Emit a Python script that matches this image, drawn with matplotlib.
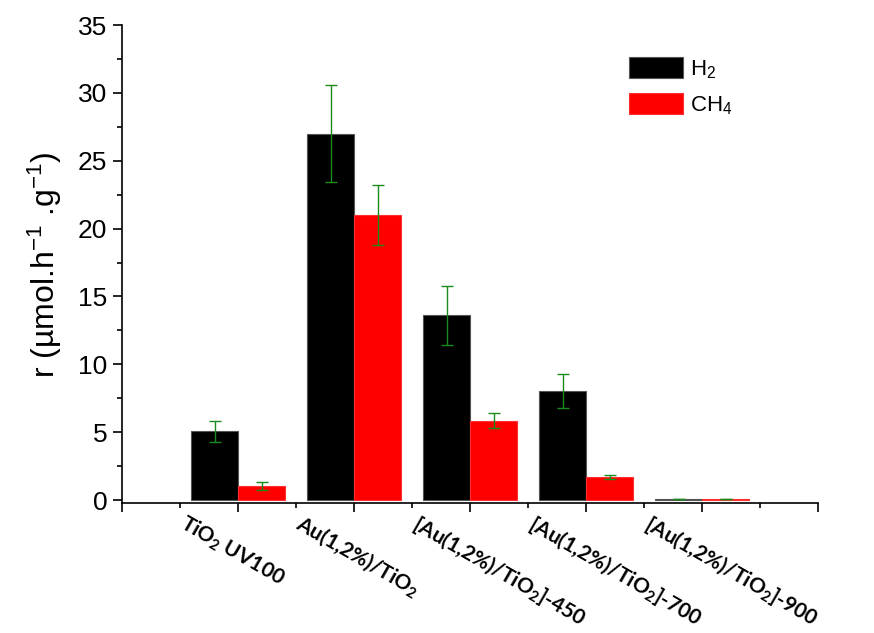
import matplotlib
matplotlib.use("Agg")
import matplotlib.pyplot as plt
import numpy as np
from matplotlib.ticker import MultipleLocator

plt.rcParams['font.family'] = ['Liberation Sans', 'DejaVu Sans']
plt.rcParams['mathtext.fontset'] = 'custom'
plt.rcParams['mathtext.rm'] = 'Liberation Sans'
plt.rcParams['mathtext.it'] = 'Liberation Sans:italic'
plt.rcParams['mathtext.bf'] = 'Lato:bold'

categories = [r'TiO$\mathbf{_2}$ UV100', r'Au(1,2%)/TiO$\mathbf{_2}$',
              r'[Au(1,2%)/TiO$\mathbf{_2}$]-450', r'[Au(1,2%)/TiO$\mathbf{_2}$]-700',
              r'[Au(1,2%)/TiO$\mathbf{_2}$]-900']
h2 = [5.05, 27.0, 13.6, 8.0, 0.1]
h2_err = [0.8, 3.6, 2.2, 1.25, 0.0]
ch4 = [1.05, 21.0, 5.85, 1.7, 0.1]
ch4_err = [0.3, 2.2, 0.56, 0.15, 0.0]
series_labels = ['H$_2$', 'CH$_4$']

fig = plt.figure(figsize=(8.74, 6.33), dpi=100)
ax = fig.add_axes([0.1396, 0.2047, 0.936 - 0.1396, 0.9605 - 0.2047])

x = np.arange(1, len(categories) + 1)
w = 0.405
ekw = dict(ecolor='#1a8a1a', elinewidth=1.0, capsize=4, capthick=1.0)
ax.bar(x - w / 2, h2, w, color='black', edgecolor='#555555', linewidth=0.8,
       yerr=h2_err, error_kw=ekw, label=series_labels[0])
ax.bar(x + w / 2, ch4, w, color='#ff0000', edgecolor='#ff3030', linewidth=0.8,
       yerr=ch4_err, error_kw=ekw, label=series_labels[1])

ax.set_xlim(0, 6)
ax.set_ylim(-0.25, 35)
ax.spines['top'].set_visible(False)
ax.spines['right'].set_visible(False)
ax.spines['left'].set_linewidth(1.2)
ax.spines['bottom'].set_linewidth(1.2)
ax.xaxis.set_major_locator(MultipleLocator(1))
ax.xaxis.set_minor_locator(MultipleLocator(0.5))
ax.yaxis.set_major_locator(MultipleLocator(5))
ax.yaxis.set_minor_locator(MultipleLocator(2.5))
ax.set_yticks(np.arange(0, 36, 5))
ax.tick_params(axis='both', which='major', direction='out', length=6.5, width=1.2, labelsize=19, pad=4)
ax.tick_params(axis='both', which='minor', direction='out', length=3.5, width=1.2)
ax.set_xticklabels([])

for xi, lab in zip(x, categories):
    ax.annotate(lab, xy=(xi, 0), xycoords=('data', 'axes fraction'),
                xytext=(-62, -8), textcoords='offset pixels',
                rotation=-30, ha='left', va='top', fontsize=15,
                fontweight='bold', family=['Lato', 'DejaVu Sans'],
                annotation_clip=False)

ax.set_ylabel(r'r (µmol.h$^{\mathrm{-1}}$ .g$^{\mathrm{-1}}$)', fontsize=23, labelpad=10)

ax.legend(loc='upper left', bbox_to_anchor=(0.70, 0.975), frameon=False, fontsize=16,
          handlelength=2.4, handleheight=1.1, labelspacing=0.55, handletextpad=0.35)

fig.savefig('out.png', dpi=100)
